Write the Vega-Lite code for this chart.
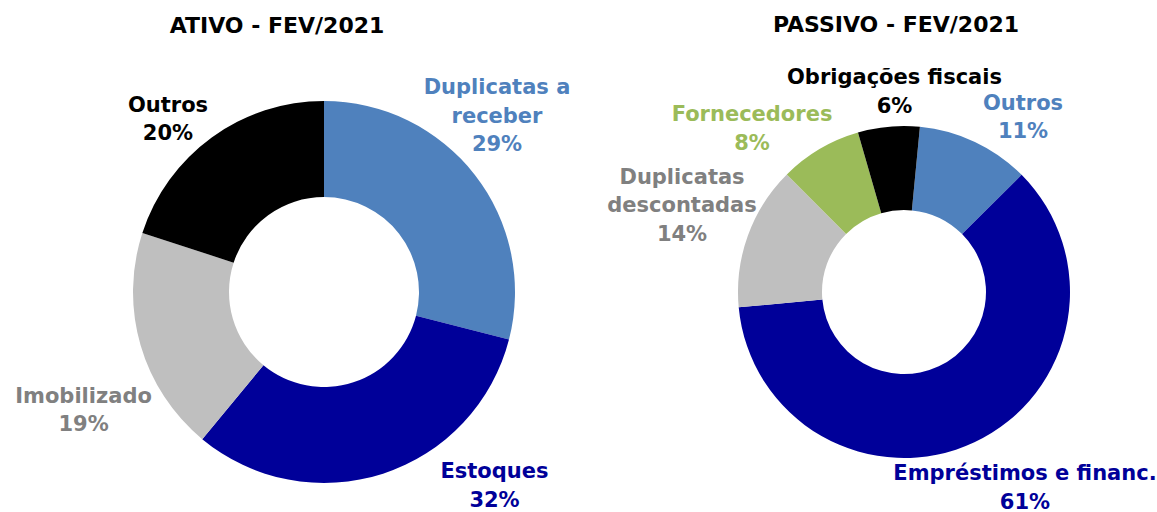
{
  "$schema": "https://vega.github.io/schema/vega-lite/v6.json",
  "autosize": {"type": "pad"},
  "padding": {"left": 0, "top": 14, "right": 0, "bottom": 0},
  "background": "white",
  "spacing": 0,
  "bounds": "flush",
  "config": {"view": {"stroke": null}, "text": {"font": "DejaVu Sans", "fontSize": 21, "fontWeight": "bold", "lineBreak": "\n", "lineHeight": 28.5}},
  "resolve": {"scale": {"color": "independent", "theta": "independent"}},
  "hconcat": [
    {
      "width": 648,
      "height": 444,
      "title": {"text": "ATIVO - FEV/2021", "dx": -47, "offset": 32, "font": "DejaVu Sans", "fontSize": 22, "fontWeight": "bold", "color": "#000000"},
      "data": {"values": [
        {"cat": "Duplicatas a receber", "ord": 1, "value": 29, "label": "Duplicatas a\nreceber\n29%"},
        {"cat": "Estoques", "ord": 2, "value": 32, "label": "Estoques\n32%"},
        {"cat": "Imobilizado", "ord": 3, "value": 19, "label": "Imobilizado\n19%"},
        {"cat": "Outros", "ord": 4, "value": 20, "label": "Outros\n20%"}
      ]},
      "layer": [
        {
          "mark": {"type": "arc", "radius": 191, "radius2": 95},
          "encoding": {
            "theta": {"field": "value", "type": "quantitative", "stack": true, "scale": {"domain": [0, 100]}},
            "order": {"field": "ord", "type": "quantitative"},
            "color": {"field": "cat", "type": "nominal", "legend": null,
              "scale": {"domain": ["Duplicatas a receber", "Estoques", "Imobilizado", "Outros"], "range": ["#4F81BD", "#000099", "#BFBFBF", "#000000"]}}
          }
        },
        {
          "transform": [{"stack": "value", "groupby": [], "sort": [{"field": "ord"}], "as": ["v0", "v1"]}, {"filter": "datum.cat === 'Duplicatas a receber'"}],
          "mark": {"type": "text", "radius": 245, "dx": 173, "dy": 41, "fill": "#4F81BD"},
          "encoding": {"theta": {"field": "v0", "type": "quantitative", "stack": null}, "text": {"field": "label"}}
        },
        {
          "transform": [{"stack": "value", "groupby": [], "sort": [{"field": "ord"}], "as": ["v0", "v1"]}, {"filter": "datum.cat === 'Estoques'"}],
          "mark": {"type": "text", "radius": 245, "dx": -66.8, "dy": 119.1, "fill": "#000099"},
          "encoding": {"theta": {"field": "v0", "type": "quantitative", "stack": null}, "text": {"field": "label"}}
        },
        {
          "transform": [{"stack": "value", "groupby": [], "sort": [{"field": "ord"}], "as": ["v0", "v1"]}, {"filter": "datum.cat === 'Imobilizado'"}],
          "mark": {"type": "text", "radius": 245, "dx": -84.3, "dy": -83.8, "fill": "#808080"},
          "encoding": {"theta": {"field": "v0", "type": "quantitative", "stack": null}, "text": {"field": "label"}}
        },
        {
          "transform": [{"stack": "value", "groupby": [], "sort": [{"field": "ord"}], "as": ["v0", "v1"]}, {"filter": "datum.cat === 'Outros'"}],
          "mark": {"type": "text", "radius": 245, "dx": 77, "dy": -110.3, "fill": "#000000"},
          "encoding": {"theta": {"field": "v0", "type": "quantitative", "stack": null}, "text": {"field": "label"}}
        }
      ]
    },
    {
      "width": 512,
      "height": 444,
      "title": {"text": "PASSIVO - FEV/2021", "dx": -8, "offset": 30, "font": "DejaVu Sans", "fontSize": 22, "fontWeight": "bold", "color": "#000000"},
      "data": {"values": [
        {"cat": "Outros", "ord": 1, "value": 11, "label": "Outros\n11%"},
        {"cat": "Empréstimos e financ.", "ord": 2, "value": 61, "label": "Empréstimos e financ.\n61%"},
        {"cat": "Duplicatas descontadas", "ord": 3, "value": 14, "label": "Duplicatas\ndescontadas\n14%"},
        {"cat": "Fornecedores", "ord": 4, "value": 8, "label": "Fornecedores\n8%"},
        {"cat": "Obrigações fiscais", "ord": 5, "value": 6, "label": "Obrigações fiscais\n6%"}
      ]},
      "layer": [
        {
          "mark": {"type": "arc", "radius": 166, "radius2": 82},
          "encoding": {
            "theta": {"field": "value", "type": "quantitative", "stack": true, "scale": {"domain": [0, 100], "range": [0.09599, 6.37918]}},
            "order": {"field": "ord", "type": "quantitative"},
            "color": {"field": "cat", "type": "nominal", "legend": null,
              "scale": {"domain": ["Outros", "Empréstimos e financ.", "Duplicatas descontadas", "Fornecedores", "Obrigações fiscais"], "range": ["#4F81BD", "#000099", "#BFBFBF", "#9BBB59", "#000000"]}}
          }
        },
        {
          "transform": [{"stack": "value", "groupby": [], "sort": [{"field": "ord"}], "as": ["v0", "v1"]}, {"filter": "datum.cat === 'Outros'"}],
          "mark": {"type": "text", "radius": 215, "dx": 98.4, "dy": 26, "fill": "#4F81BD"},
          "encoding": {"theta": {"field": "v0", "type": "quantitative", "stack": null}, "text": {"field": "label"}}
        },
        {
          "transform": [{"stack": "value", "groupby": [], "sort": [{"field": "ord"}], "as": ["v0", "v1"]}, {"filter": "datum.cat === 'Empréstimos e financ.'"}],
          "mark": {"type": "text", "radius": 215, "dx": -31.3, "dy": 333.8, "fill": "#000099"},
          "encoding": {"theta": {"field": "v0", "type": "quantitative", "stack": null}, "text": {"field": "label"}}
        },
        {
          "transform": [{"stack": "value", "groupby": [], "sort": [{"field": "ord"}], "as": ["v0", "v1"]}, {"filter": "datum.cat === 'Duplicatas descontadas'"}],
          "mark": {"type": "text", "radius": 215, "dx": -7.9, "dy": -133.9, "fill": "#808080"},
          "encoding": {"theta": {"field": "v0", "type": "quantitative", "stack": null}, "text": {"field": "label"}}
        },
        {
          "transform": [{"stack": "value", "groupby": [], "sort": [{"field": "ord"}], "as": ["v0", "v1"]}, {"filter": "datum.cat === 'Fornecedores'"}],
          "mark": {"type": "text", "radius": 215, "dx": -0.2, "dy": -24.7, "fill": "#9BBB59"},
          "encoding": {"theta": {"field": "v0", "type": "quantitative", "stack": null}, "text": {"field": "label"}}
        },
        {
          "transform": [{"stack": "value", "groupby": [], "sort": [{"field": "ord"}], "as": ["v0", "v1"]}, {"filter": "datum.cat === 'Obrigações fiscais'"}],
          "mark": {"type": "text", "radius": 215, "dx": 50.1, "dy": -7.4, "fill": "#000000"},
          "encoding": {"theta": {"field": "v0", "type": "quantitative", "stack": null}, "text": {"field": "label"}}
        }
      ]
    }
  ]
}
